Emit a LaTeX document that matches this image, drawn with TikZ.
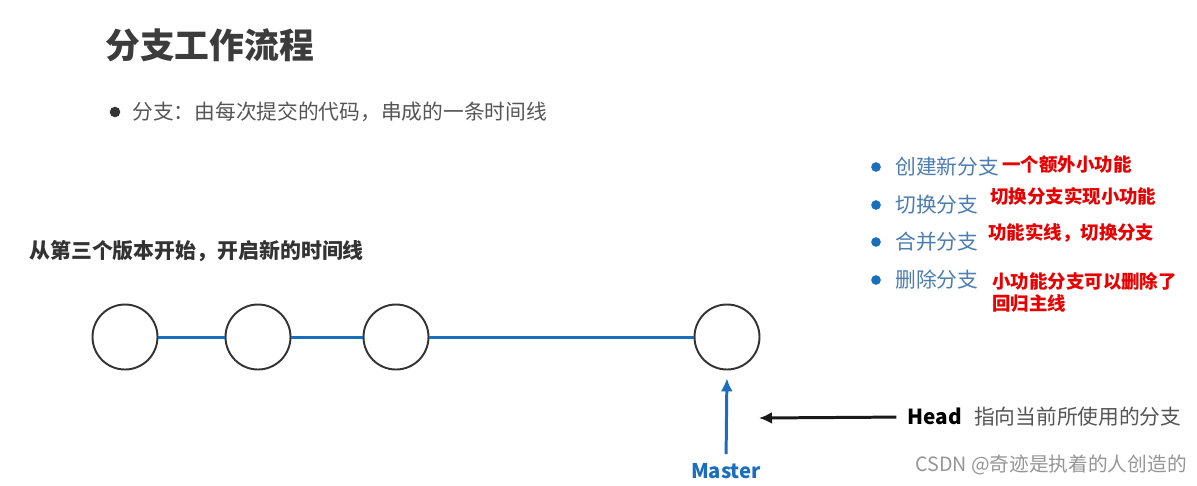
\documentclass[tikz,border=0pt]{standalone}
\usepackage{fontspec}
\setmainfont{Noto Sans CJK SC}
\newfontfamily\cjk{Noto Sans CJK SC}
\usetikzlibrary{arrows.meta,positioning}
\definecolor{mTitle}{RGB}{60,60,60}
\definecolor{mText}{RGB}{85,85,85}
\definecolor{mBlue}{RGB}{25,110,190}
\definecolor{mItem}{RGB}{75,125,180}
\definecolor{mRed}{RGB}{232,0,0}
\definecolor{mMark}{RGB}{150,150,150}
\tikzset{
  commitnd/.style={circle, draw=black!80, line width=1.1pt, minimum size=1.3cm, inner sep=0pt},
  linkln/.style={mBlue, line width=1.7pt},
  ptrln/.style={-{Latex[length=2.6mm,width=2.4mm]}, line width=1.7pt},
  itemdot/.style={circle, fill=mBlue, inner sep=0pt, minimum size=5.5pt},
  itemtx/.style={anchor=west, inner sep=0pt, font=\fontsize{11.8}{13}\selectfont, text=mItem},
  notetx/.style={anchor=west, inner sep=0pt, font=\fontsize{10.5}{12}\selectfont\bfseries, text=mRed},
}

\begin{document}
\begin{tikzpicture}[x=0.02cm, y=-0.02cm]
    \useasboundingbox[fill=white] (0,0) rectangle (1197,485);
    % heading and first bullet
    \node[anchor=west, inner sep=0pt, text=mTitle, font=\fontsize{19.8}{22}\selectfont\bfseries] (title) at (105,45) {分支工作流程};
    \node[circle, fill=black!80, inner sep=0pt, minimum size=6pt] (dot0) at (115,112) {};
    \node[anchor=west, inner sep=0pt, text=mText, font=\fontsize{11.8}{13}\selectfont] (def) at (132,112) {分支：由每次提交的代码，串成的一条时间线};
    % list on the right
    \node[itemdot] (dot1) at (876,167) {};
    \node[itemdot] (dot2) at (876,205) {};
    \node[itemdot] (dot3) at (876,242) {};
    \node[itemdot] (dot4) at (876,280) {};
    \node[itemtx] (item1) at (895,167) {创建新分支};
    \node[itemtx] (item2) at (895,205) {切换分支};
    \node[itemtx] (item3) at (895,242) {合并分支};
    \node[itemtx] (item4) at (895,280) {删除分支};
    \node[notetx] (note1) at (1002,165) {一个额外小功能};
    \node[notetx] (note2) at (990,196) {切换分支实现小功能};
    \node[notetx] (note3) at (988,233) {功能实线，切换分支};
    \node[notetx] (note4) at (992,281) {小功能分支可以删除了};
    \node[notetx] (note5) at (992,304) {回归主线};
    % timeline
    \node[anchor=west, inner sep=0pt, text=black!80, font=\fontsize{11.9}{13}\selectfont\bfseries] (start) at (29,251) {从第三个版本开始，开启新的时间线};
    \node[commitnd] (c1) at (125,337) {};
    \node[commitnd] (c2) at (258,337) {};
    \node[commitnd] (c3) at (396,337) {};
    \node[commitnd] (c4) at (727,337) {};
    \draw[linkln] (c1) -- (c2);
    \draw[linkln] (c2) -- (c3);
    \draw[linkln] (c3) -- (c4);
    % pointers
    \node[inner sep=0pt, text=mBlue, font=\fontsize{11.5}{13}\selectfont\bfseries] (master) at (726,471) {Master};
    \draw[ptrln, mBlue, shorten <=5pt, shorten >=4.5pt] (master.north) -- (c4.south);
    \node[anchor=west, inner sep=0pt, font=\fontsize{11.8}{13}\selectfont] (head) at (907,417) {\textbf{Head}\hspace{0.6em}\textcolor{mText}{指向当前所使用的分支}};
    \coordinate (headtip) at (759,418);
    \draw[ptrln, black!90, shorten <=6pt] (head.west) -- (headtip);
    \node[anchor=west, inner sep=0pt, text=mMark, font=\fontsize{11.2}{13}\selectfont] (mark) at (915,465) {CSDN @奇迹是执着的人创造的};
  \end{tikzpicture}
\end{document}
